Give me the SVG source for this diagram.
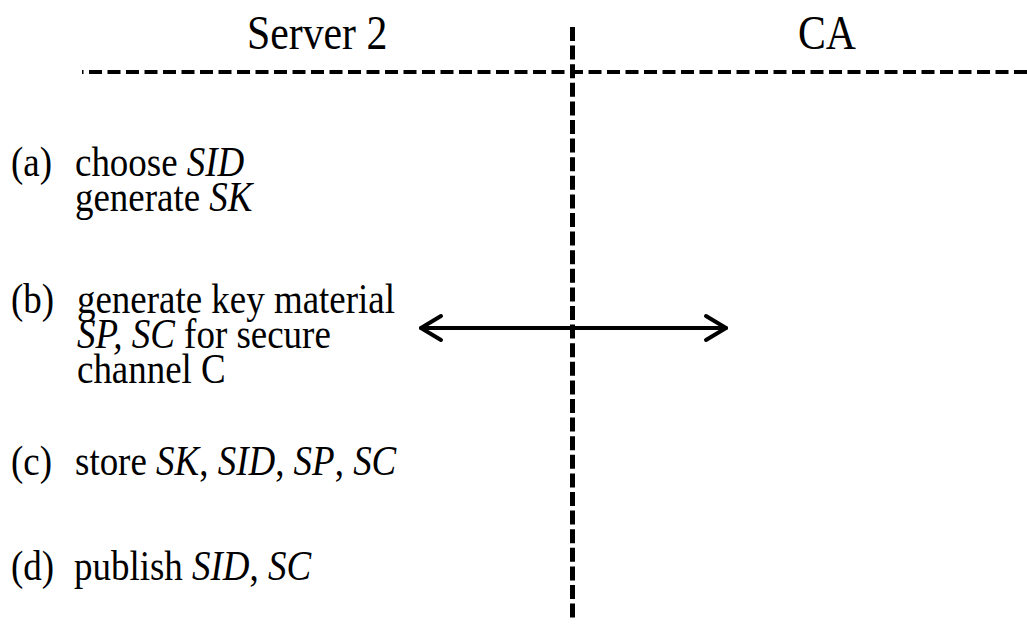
<svg xmlns="http://www.w3.org/2000/svg" width="1027" height="626" viewBox="0 0 1027 626">
<style>
.t{font-family:"Liberation Serif","Times New Roman",serif;font-size:42px;fill:#000}
.h{font-family:"Liberation Serif","Times New Roman",serif;font-size:48px;fill:#000}
.i{font-style:italic}
.dash{fill:none;stroke:#000}
.arr{fill:none;stroke:#000;stroke-width:4;stroke-linecap:round;stroke-linejoin:round}
</style>
<rect width="1027" height="626" fill="#fff"/>
<g id="header-server2"><text class="h" transform="translate(247,49) scale(0.87,1)">Server 2</text></g>
<g id="header-ca"><text class="h" transform="translate(798,49) scale(0.87,1)">CA</text></g>
<g id="lanes">
<line class="dash" x1="82" y1="72" x2="1027" y2="72" stroke-width="4" stroke-dasharray="13 5.5" stroke-dashoffset="11.5"/>
<line class="dash" x1="572.5" y1="27" x2="572.5" y2="622" stroke-width="5" stroke-dasharray="14 4.6"/>
</g>
<g id="step-a">
<text class="t" transform="translate(11,176) scale(0.88,1)">(a)</text>
<text class="t" transform="translate(75,176) scale(0.88,1)">choose <tspan class="i">SID</tspan></text>
<text class="t" transform="translate(75,211) scale(0.88,1)">generate <tspan class="i">SK</tspan></text>
</g>
<g id="step-b">
<text class="t" transform="translate(11,313) scale(0.88,1)">(b)</text>
<text class="t" transform="translate(77,313) scale(0.88,1)">generate key material</text>
<text class="t" transform="translate(77,348) scale(0.88,1)"><tspan class="i">SP, SC</tspan> for secure</text>
<text class="t" transform="translate(77,383) scale(0.88,1)">channel C</text>
</g>
<g id="step-c">
<text class="t" transform="translate(11,475) scale(0.88,1)">(c)</text>
<text class="t" transform="translate(75,475) scale(0.88,1)">store <tspan class="i">SK</tspan>, <tspan class="i">SID</tspan>, <tspan class="i">SP</tspan>, <tspan class="i">SC</tspan></text>
</g>
<g id="step-d">
<text class="t" transform="translate(11,580) scale(0.88,1)">(d)</text>
<text class="t" transform="translate(74,580) scale(0.88,1)">publish <tspan class="i">SID</tspan>, <tspan class="i">SC</tspan></text>
</g>
<g id="connectors">
<line class="arr" x1="421" y1="328" x2="726" y2="328"/>
<polyline class="arr" points="441,316 421,328 441,340"/>
<polyline class="arr" points="706,316 726,328 706,340"/>
</g>
</svg>
